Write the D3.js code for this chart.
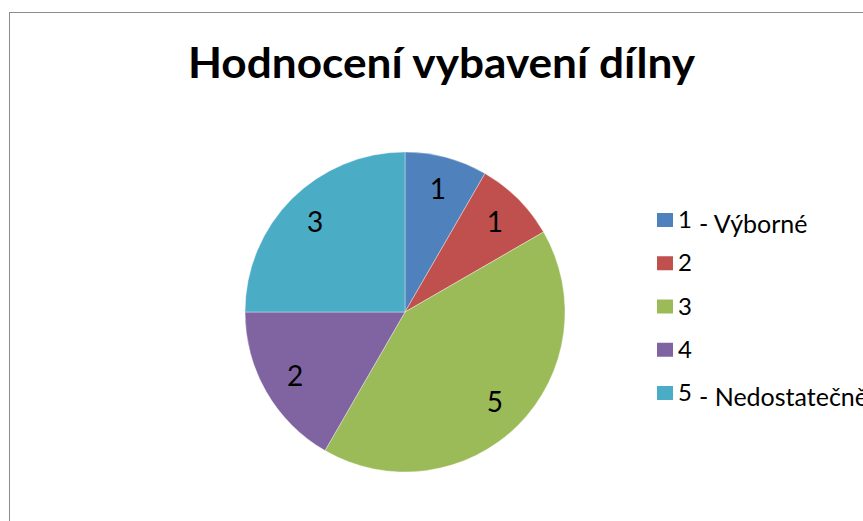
<!DOCTYPE html>
<html>
<head>
<meta charset="utf-8">
<script src="https://cdn.jsdelivr.net/npm/d3@7"></script>
<style>
  body { margin: 0; background: #fff; }
  svg { display: block; }
</style>
</head>
<body>
<div id="chart"></div>
<script>
// data
const categories = ["1", "2", "3", "4", "5"];
const suffixes = ["- Výborné", "", "", "", "- Nedostatečně"];
const values = [1, 1, 5, 2, 3];
const colors = ["#4F81BD", "#C0504D", "#9BBB59", "#8064A2", "#4BACC6"];

let width = 863, height = 521;

let svg = d3.select("#chart")
            .append("svg")
            .attr("width", width)
            .attr("height", height);

svg.append("rect")
   .attr("width", width)
   .attr("height", height)
   .attr("fill", "#fff");

// chart area border (runs past the right and bottom edge)
svg.append("rect")
   .attr("x", 9.5)
   .attr("y", 12.5)
   .attr("width", 900)
   .attr("height", 600)
   .attr("fill", "none")
   .attr("stroke", "#8c8c8c")
   .attr("stroke-width", 1);

svg.append("text")
   .attr("x", 188)
   .attr("y", 78)
   .attr("textLength", 507)
   .attr("lengthAdjust", "spacingAndGlyphs")
   .style("font-family", "Lato, 'Open Sans', sans-serif")
   .style("font-weight", "bold")
   .style("font-size", "42px")
   .attr("fill", "#000")
   .text("Hodnocení vybavení dílny");

let cx = 405, cy = 312, r = 160;

let pie = d3.pie().sort(null).value(function(d) { return d; });
let arcs = pie(values);

let arc = d3.arc().innerRadius(0).outerRadius(r);
let labelArc = d3.arc().innerRadius(127).outerRadius(127);

let g = svg.append("g")
           .attr("transform", "translate(" + cx + "," + cy + ")");

g.selectAll("path")
 .data(arcs)
 .enter()
 .append("path")
 .attr("d", arc)
 .attr("fill", function(d, i) { return colors[i]; })
 .attr("stroke", "#fff")
 .attr("stroke-opacity", 0.6)
 .attr("stroke-width", 0.6);

g.selectAll("text")
 .data(arcs)
 .enter()
 .append("text")
 .attr("transform", function(d) { return "translate(" + labelArc.centroid(d) + ")"; })
 .attr("text-anchor", "middle")
 .attr("dy", "0.36em")
 .style("font-family", "Lato, 'Open Sans', sans-serif")
 .style("font-size", "28px")
 .attr("fill", "#000")
 .text(function(d) { return d.data; });

// legend
let legendY = d3.scalePoint().domain(categories).range([220, 393]);

let legend = svg.append("g");

let item = legend.selectAll("g")
                 .data(categories)
                 .enter()
                 .append("g")
                 .attr("transform", function(d) { return "translate(657," + legendY(d) + ")"; });

item.append("rect")
    .attr("x", 0)
    .attr("y", -7)
    .attr("width", 16)
    .attr("height", 14)
    .attr("fill", function(d, i) { return colors[i]; });

item.append("text")
    .attr("x", 21)
    .attr("y", 8)
    .style("font-family", "Lato, 'Open Sans', sans-serif")
    .style("font-size", "24px")
    .attr("fill", "#000")
    .text(function(d) { return d; });

item.append("text")
    .attr("x", 42)
    .attr("y", 13)
    .style("font-family", "Lato, 'Open Sans', sans-serif")
    .style("font-size", "25px")
    .attr("fill", "#000")
    .text(function(d, i) { return suffixes[i]; });
</script>
</body>
</html>
